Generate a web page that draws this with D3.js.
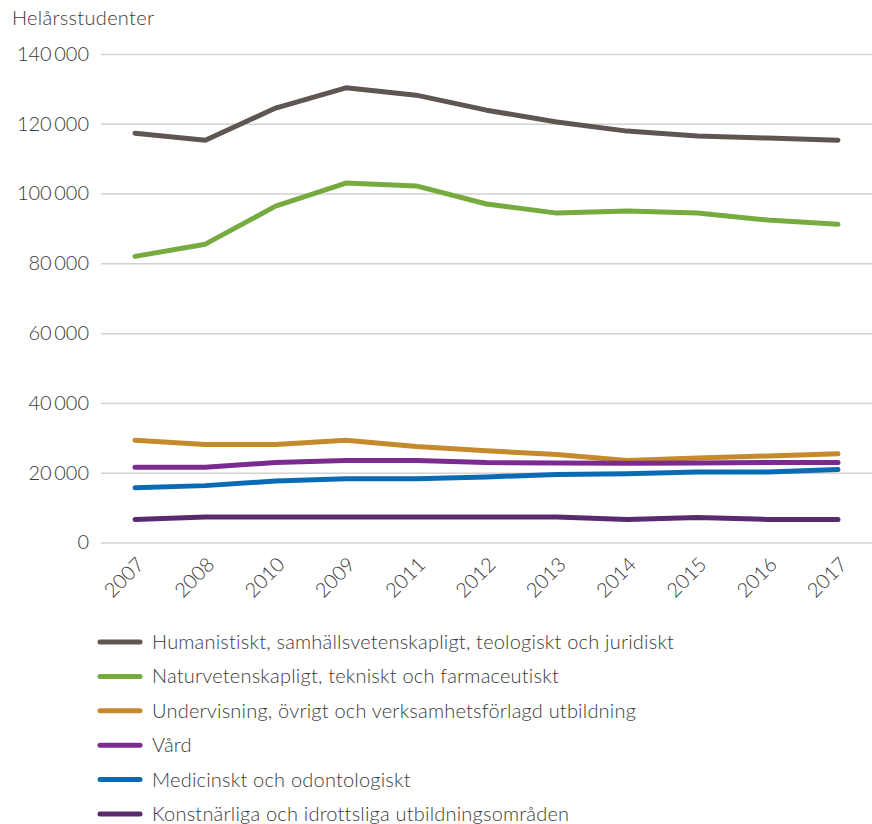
<!DOCTYPE html>
<html>
<head>
<meta charset="utf-8">
<script src="https://cdn.jsdelivr.net/npm/d3@7"></script>
<style>
body { margin: 0; background: #fff; }
svg text { font-family: Lato, "Open Sans", sans-serif; font-weight: 300; fill: #3a3a3a; }
</style>
</head>
<body>
<svg width="872" height="824"></svg>
<script>
var years = ["2007", "2008", "2010", "2009", "2011", "2012", "2013", "2014", "2015", "2016", "2017"];
var yTicks = [0, 20000, 40000, 60000, 80000, 100000, 120000, 140000];

var humanistiskt = [117300, 115300, 124500, 130300, 128200, 123900, 120500, 117900, 116500, 115900, 115300];
var naturvetenskapligt = [82000, 85500, 96400, 103000, 102200, 97000, 94400, 95000, 94400, 92400, 91200];
var undervisning = [29300, 28100, 28100, 29300, 27500, 26300, 25200, 23500, 24200, 24800, 25400];
var vard = [21600, 21600, 22900, 23500, 23500, 22900, 22800, 22700, 22800, 22900, 22900];
var medicinskt = [15700, 16300, 17600, 18300, 18300, 18800, 19500, 19700, 20200, 20200, 20900];
var konstnarliga = [6600, 7300, 7300, 7300, 7300, 7300, 7300, 6600, 7200, 6600, 6600];

var seriesNames = [
	"Humanistiskt, samhällsvetenskapligt, teologiskt och juridiskt",
	"Naturvetenskapligt, tekniskt och farmaceutiskt",
	"Undervisning, övrigt och verksamhetsförlagd utbildning",
	"Vård",
	"Medicinskt och odontologiskt",
	"Konstnärliga och idrottsliga utbildningsområden"
];
var seriesValues = [humanistiskt, naturvetenskapligt, undervisning, vard, medicinskt, konstnarliga];
var colors = ["#5f5553", "#76ab3f", "#c48a2c", "#7b2a90", "#0a6bb5", "#5b2a6e"];

var svg = d3.select("svg");
var fmt = function(v) { return d3.format(",")(v).replace(/,/g, "\u2009"); };

var x = d3.scalePoint().domain(years).range([135, 838]);
var y = d3.scaleLinear().domain([0, 140000]).range([542.5, 54]);

// y label
svg.append("text").attr("x", 12).attr("y", 25).style("font-size", "20px").style("letter-spacing", "0.3px").text("Helårsstudenter");

// gridlines + y tick labels
var yAxis = svg.append("g").attr("transform", "translate(101,0)")
	.call(d3.axisLeft(y).tickValues(yTicks).tickSize(-771).tickPadding(12).tickFormat(fmt));
yAxis.select(".domain").remove();
yAxis.selectAll(".tick line").attr("stroke", "#d2d2d2").attr("stroke-width", 1.5);
yAxis.selectAll(".tick text").style("font-size", "20px").style("font-family", "Lato, sans-serif").attr("fill", "#3a3a3a");

// x labels
var xAxis = svg.append("g").attr("transform", "translate(0,542)")
	.call(d3.axisBottom(x).tickSize(0).tickPadding(0));
xAxis.select(".domain").remove();
xAxis.selectAll(".tick text")
	.style("font-size", "20px").style("font-family", "Lato, sans-serif").attr("fill", "#3a3a3a")
	.attr("text-anchor", "end")
	.attr("transform", "translate(0,14) rotate(-45)")
	.attr("dy", "0.7em");

// lines
var line = d3.line()
	.x(function(d, i) { return x(years[i]); })
	.y(function(d) { return y(d); });

seriesValues.forEach(function(vals, k) {
	svg.append("path")
		.datum(vals)
		.attr("d", line)
		.attr("fill", "none")
		.attr("stroke", colors[k])
		.attr("stroke-width", 5)
		.attr("stroke-linecap", "round")
		.attr("stroke-linejoin", "round");
});

// legend
var legend = svg.append("g");
seriesNames.forEach(function(name, k) {
	var ly = 642 + k * 34.4;
	legend.append("line")
		.attr("x1", 100).attr("x2", 140).attr("y1", ly).attr("y2", ly)
		.attr("stroke", colors[k]).attr("stroke-width", 5).attr("stroke-linecap", "round");
	legend.append("text")
		.attr("x", 152).attr("y", ly).attr("dy", "0.35em")
		.style("font-size", "20px")
		.style("letter-spacing", "0.2px")
		.text(name);
});
</script>
</body>
</html>
